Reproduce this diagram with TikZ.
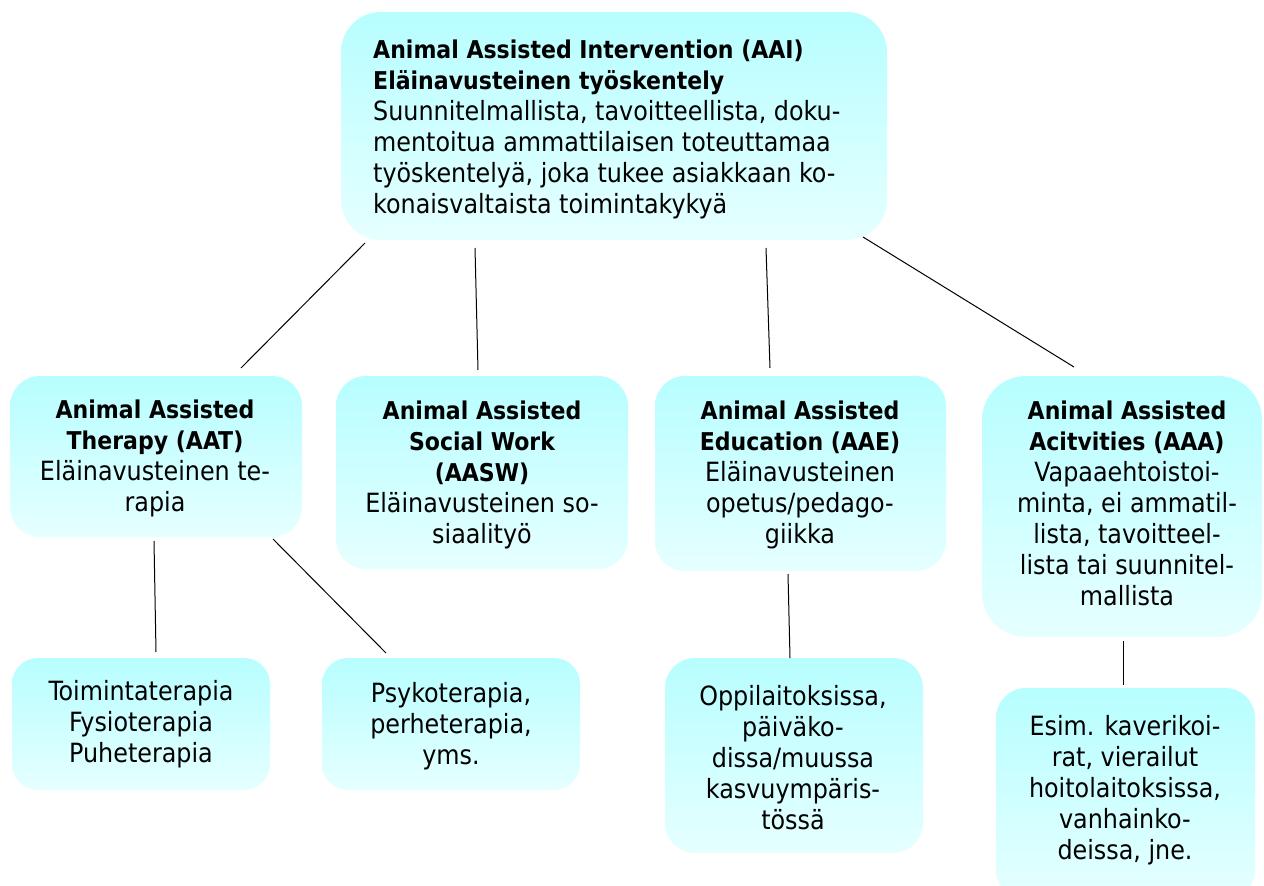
\documentclass[tikz,border=0pt]{standalone}
\usepackage{fontspec}
\setmainfont{DejaVu Sans Condensed}
\definecolor{boxtop}{RGB}{183,254,255}
\definecolor{boxbot}{RGB}{230,255,255}
\newcommand\bt[1]{{\fontsize{24.5}{31}\selectfont\bfseries #1}}
\begin{document}
\begin{tikzpicture}[x=1pt,y=-1pt,
  box/.style={rounded corners=#1, top color=boxtop, bottom color=boxbot, draw=none, inner sep=0pt, outer sep=0pt},
  box/.default=30pt,
  txt/.style={font=\fontsize{26.5}{31}\selectfont, align=center, inner sep=0pt, text=black},
  conn/.style={draw=black, line width=1pt}]
\fill[white] (0,0) rectangle (1264,886);
\useasboundingbox (0,0) rectangle (1264,886);

% boxes
\node[box=40pt, minimum width=546pt, minimum height=228pt] (aai) at (614,126) {};
\node[box, minimum width=292pt, minimum height=161pt] (aat) at (156,456.5) {};
\node[box, minimum width=292pt, minimum height=193pt] (aasw) at (482,472.5) {};
\node[box, minimum width=291pt, minimum height=195pt] (aae) at (800.5,473.5) {};
\node[box=44pt, minimum width=280pt, minimum height=261pt] (aaa) at (1122,506.5) {};
\node[box=26pt, minimum width=258pt, minimum height=132pt] (toim) at (141,724) {};
\node[box=26pt, minimum width=258pt, minimum height=132pt] (psyk) at (451,724) {};
\node[box, minimum width=258pt, minimum height=195pt] (oppi) at (794,755.5) {};
\node[box, minimum width=259pt, minimum height=212pt] (esim) at (1125.5,794) {};

% texts
\node[txt, align=left, anchor=west] (aaiT) at (373,129) {\bt{Animal Assisted Intervention (AAI)}\\\bt{Eläinavusteinen työskentely}\\Suunnitelmallista, tavoitteellista, doku-\\mentoitua ammattilaisen toteuttamaa\\työskentelyä, joka tukee asiakkaan ko-\\konaisvaltaista toimintakykyä};
\node[txt] (aatT) at (155,458.5) {\bt{Animal Assisted}\\\bt{Therapy (AAT)}\\Eläinavusteinen te-\\rapia};
\node[txt] (aaswT) at (482,475) {\bt{Animal Assisted}\\\bt{Social Work}\\\bt{(AASW)}\\Eläinavusteinen so-\\siaalityö};
\node[txt] (aaeT) at (800,475) {\bt{Animal Assisted}\\\bt{Education (AAE)}\\Eläinavusteinen\\opetus/pedago-\\giikka};
\node[txt] (aaaT) at (1127,503) {\bt{Animal Assisted}\\\bt{Acitvities (AAA)}\\Vapaaehtoistoi-\\minta, ei ammatil-\\lista, tavoitteel-\\lista tai suunnitel-\\mallista};
\node[txt] (toimT) at (141,724) {Toimintaterapia\\Fysioterapia\\Puheterapia};
\node[txt] (psykT) at (451,726) {Psykoterapia,\\perheterapia,\\yms.};
\node[txt] (oppiT) at (793,757.5) {Oppilaitoksissa,\\päiväko-\\dissa/muussa\\kasvuympäris-\\tössä};
\node[txt] (esimT) at (1125,790.5) {Esim. kaverikoi-\\rat, vierailut\\hoitolaitoksissa,\\vanhainko-\\deissa, jne.};

% connector end points
\coordinate (c1a) at (365,243); \coordinate (c1b) at (241,368);
\coordinate (c2a) at (475,248); \coordinate (c2b) at (478,370);
\coordinate (c3a) at (766,248); \coordinate (c3b) at (770,368);
\coordinate (c4a) at (863,237); \coordinate (c4b) at (1074,367);
\coordinate (c5a) at (154,541); \coordinate (c5b) at (156,652);
\coordinate (c6a) at (273,539); \coordinate (c6b) at (386,653);
\coordinate (c7a) at (788,574); \coordinate (c7b) at (790,658);
\coordinate (c8a) at (1123,641); \coordinate (c8b) at (1123,685);

\draw[conn] (c1a) -- (c1b);
\draw[conn] (c2a) -- (c2b);
\draw[conn] (c3a) -- (c3b);
\draw[conn] (c4a) -- (c4b);
\draw[conn] (c5a) -- (c5b);
\draw[conn] (c6a) -- (c6b);
\draw[conn] (c7a) -- (c7b);
\draw[conn] (c8a) -- (c8b);
\end{tikzpicture}
\end{document}
